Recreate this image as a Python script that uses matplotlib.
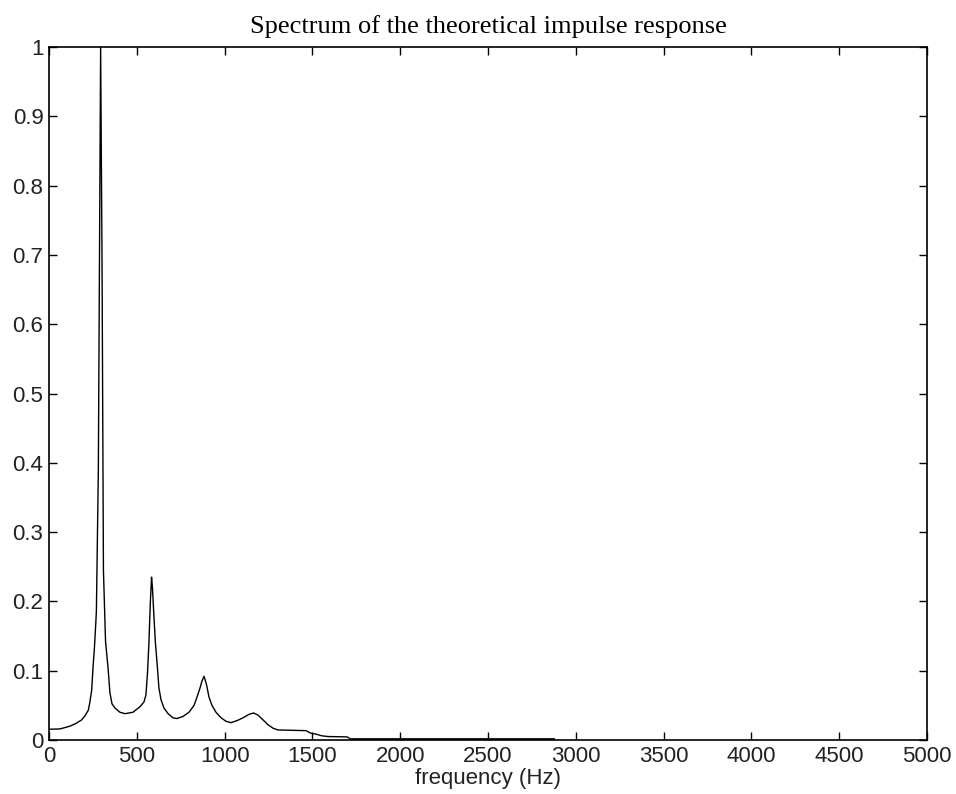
import matplotlib
matplotlib.use("Agg")
import matplotlib.pyplot as plt

# Spectrum (frequency in Hz, normalised magnitude)
freq_hz = [0, 63, 120, 154, 186, 205, 224, 233, 243, 252, 258, 268, 270,
           281, 294, 302, 310, 322, 336, 347, 359, 376, 404, 433, 478, 518,
           541, 552, 561, 569, 577, 584, 589, 598, 606, 617, 626, 638, 655,
           678, 706, 729, 763, 797, 826, 843, 860, 871, 883, 897, 911, 928,
           951, 980, 1008, 1036, 1071, 1105, 1139, 1165, 1190, 1219, 1247,
           1276, 1304, 1464, 1489, 1520, 1555, 1589, 1697, 1714]
magnitude = [0.0155, 0.016, 0.020, 0.024, 0.029, 0.035, 0.043, 0.055, 0.072,
             0.110, 0.130, 0.176, 0.188, 0.390, 1.0, 0.690, 0.245, 0.142,
             0.105, 0.068, 0.052, 0.046, 0.040, 0.038, 0.040, 0.048, 0.055,
             0.065, 0.097, 0.140, 0.198, 0.235, 0.220, 0.176, 0.140, 0.106,
             0.075, 0.058, 0.046, 0.038, 0.032, 0.031, 0.034, 0.040, 0.050,
             0.062, 0.075, 0.085, 0.092, 0.080, 0.062, 0.050, 0.040, 0.032,
             0.027, 0.025, 0.028, 0.032, 0.037, 0.039, 0.036, 0.029, 0.022,
             0.017, 0.0145, 0.0135, 0.010, 0.0085, 0.006, 0.005, 0.0045,
             0.002]

# noisy tail near zero
tail_hz = [1714, 2000, 2500, 2870]
tail_amp = [0.002, 0.002, 0.002, 0.002]

xticks = [0, 500, 1000, 1500, 2000, 2500, 3000, 3500, 4000, 4500, 5000]
yticks = [0, 0.1, 0.2, 0.3, 0.4, 0.5, 0.6, 0.7, 0.8, 0.9, 1]
ytick_labels = ["0", "0.1", "0.2", "0.3", "0.4", "0.5", "0.6", "0.7", "0.8", "0.9", "1"]

fig = plt.figure(figsize=(9.56, 7.94), dpi=100)
ax = fig.add_axes([49 / 956, 54 / 794, 878 / 956, 693 / 794])

ax.plot(freq_hz, magnitude, color="black", lw=1.0)
ax.plot(tail_hz, tail_amp, color="#222222", lw=2.2)

ax.set_xlim(0, 5000)
ax.set_ylim(0, 1)
ax.set_xticks(xticks)
ax.set_xticklabels([str(t) for t in xticks])
ax.set_yticks(yticks)
ax.set_yticklabels(ytick_labels)

ax.tick_params(direction="in", length=6, width=1, top=True, right=True,
               labelsize=16, pad=4)
for lab in ax.get_xticklabels() + ax.get_yticklabels():
    lab.set_family("Liberation Sans")
    lab.set_color("#222222")
for s in ax.spines.values():
    s.set_linewidth(1.2)

ax.set_xlabel("frequency (Hz)", fontsize=16, family="Liberation Sans",
              color="#222222", labelpad=1)
ax.set_title("Spectrum of the theoretical impulse response", fontsize=19,
             family="Liberation Serif", pad=10)

fig.savefig("out.png", dpi=100)
